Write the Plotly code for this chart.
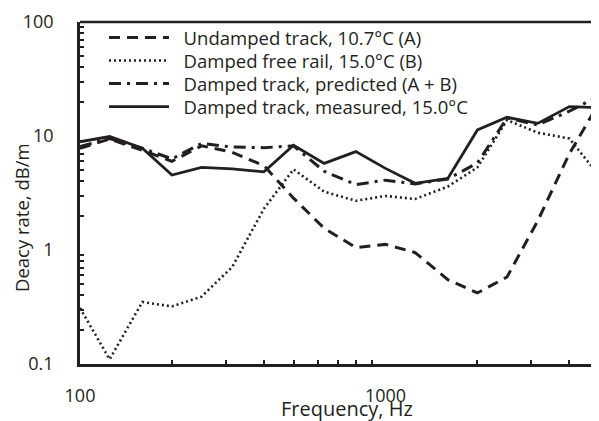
import plotly.graph_objects as go

freq = [100, 125, 160, 200, 250, 315, 400, 500, 630, 800, 1000, 1250, 1600, 2000, 2500, 3150, 4000, 5000]
undamped = [7.8, 9.4, 7.5, 6.0, 8.2, 7.2, 5.5, 2.85, 1.55, 1.05, 1.12, 0.95, 0.55, 0.42, 0.58, 1.8, 7.0, 19.5]
damped_free = [0.31, 0.11, 0.35, 0.32, 0.39, 0.71, 2.3, 5.1, 3.25, 2.7, 2.98, 2.8, 3.6, 5.3, 13.8, 10.7, 9.5, 4.5]
predicted = [8.1, 9.5, 7.8, 6.3, 8.6, 8.0, 7.9, 8.2, 4.9, 3.75, 4.1, 3.8, 4.2, 5.8, 14.4, 12.5, 16.5, 22.5]
measured = [8.9, 9.9, 7.8, 4.55, 5.3, 5.15, 4.85, 8.3, 5.75, 7.3, 5.2, 3.85, 4.25, 11.3, 14.6, 12.9, 18.1, 17.7]

names = ["Undamped track, 10.7°C (A)", "Damped free rail, 15.0°C (B)",
         "Damped track, predicted (A + B)", "Damped track, measured, 15.0°C"]
x_tickvals = [100, 1000]
x_ticktext = ["100", "1000"]
x_minor = [200, 300, 400, 500, 600, 700, 800, 900, 2000, 3000, 4000, 5000]
y_tickvals = [0.1, 1, 10, 100]
y_ticktext = ["0.1", "1", "10", "100"]
y_minor = [0.2, 0.3, 0.4, 0.5, 0.6, 0.7, 0.8, 0.9, 2, 3, 4, 5, 6, 7, 8, 9,
           20, 30, 40, 50, 60, 70, 80, 90]
x_title = "Frequency, Hz"
y_title = "Deacy rate, dB/m"

INK = "#231f20"
FONT = "Open Sans"
CLEAR = "rgba(0,0,0,0)"

# The page body has an 8px margin; work in screen pixels and subtract it.
OFF = 8
W, H = 599 - OFF, 421 - OFF
L, R, T, B = 80 - OFF, 599 - OFF, 22 - OFF, 364 - OFF
PW, PH = R - L, B - T
XR = [2, 3.699]
YR = [-1, 2]


def px(xs):
    return (xs - OFF - L) / PW


def py(ys):
    return (B - (ys - OFF)) / PH


fig = go.Figure()
series = [undamped, damped_free, predicted, measured]
dashes = ["11px,7px", "2px,3px", "12px,6px,3px,6px", "solid"]
widths = [3.0, 2.6, 3.0, 2.8]
legend_ids = ["legend", "legend2", "legend3", "legend4"]
legend_rows = [38, 61, 84, 107]
for name, vals, d, w, lg in zip(names, series, dashes, widths, legend_ids):
    fig.add_trace(go.Scatter(x=freq, y=vals, mode="lines", name="\u00a0\u00a0" + name,
                             legend=lg, line=dict(color=INK, width=w, dash=d)))

legend_common = dict(xanchor="left", yanchor="middle", bgcolor=CLEAR,
                     font=dict(size=18.5, family=FONT, color=INK), itemwidth=60,
                     borderwidth=0)
legends = {}
for lg, row in zip(legend_ids, legend_rows):
    legends[lg] = dict(legend_common, x=px(108 - 4), y=py(row))

plain = dict(showgrid=False, zeroline=False, automargin=False)

fig.update_layout(
    width=W, height=H,
    margin=dict(l=L, r=W - R, t=T, b=H - B),
    paper_bgcolor="white", plot_bgcolor="white",
    font=dict(family=FONT, color=INK, size=18),
    showlegend=True,
    **legends,
    # main axes: labels (pushed away by long transparent major ticks) + inside minor ticks
    xaxis=dict(plain, type="log", range=XR,
               showline=True, linecolor=INK, linewidth=2.5,
               tickvals=x_tickvals, ticktext=x_ticktext,
               ticks="outside", ticklen=14, tickwidth=1.5, tickcolor=CLEAR,
               minor=dict(ticks="inside", ticklen=4, tickwidth=1.5, tickcolor=INK,
                          tickvals=x_minor),
               tickfont=dict(size=18)),
    yaxis=dict(plain, type="log", range=YR,
               showline=True, linecolor=INK, linewidth=2.5,
               tickvals=y_tickvals, ticktext=y_ticktext,
               ticks="outside", ticklen=20, tickwidth=1.5, tickcolor=CLEAR,
               minor=dict(ticks="inside", ticklen=4, tickwidth=1.5, tickcolor=INK,
                          tickvals=y_minor),
               tickfont=dict(size=18)),
    # overlay axes: visible major ticks crossing the axis line
    xaxis2=dict(plain, type="log", range=XR, overlaying="x", anchor="y", side="bottom",
                showline=False, tickvals=x_tickvals, showticklabels=False,
                ticks="outside", ticklen=4, tickwidth=1.5, tickcolor=INK),
    xaxis3=dict(plain, type="log", range=XR, overlaying="x", anchor="y", side="bottom",
                showline=False, tickvals=x_tickvals, showticklabels=False,
                ticks="inside", ticklen=4, tickwidth=1.5, tickcolor=INK),
    yaxis2=dict(plain, type="log", range=YR, overlaying="y", anchor="x", side="left",
                showline=False, tickvals=y_tickvals, showticklabels=False,
                ticks="outside", ticklen=4, tickwidth=1.5, tickcolor=INK),
    yaxis3=dict(plain, type="log", range=YR, overlaying="y", anchor="x", side="left",
                showline=False, tickvals=y_tickvals, showticklabels=False,
                ticks="inside", ticklen=4, tickwidth=1.5, tickcolor=INK),
    shapes=[dict(type="line", xref="paper", yref="paper", x0=0, x1=1, y0=1, y1=1,
                 line=dict(color=INK, width=2.5))],
    annotations=[
        dict(text=x_title, xref="paper", yref="paper", x=px(347), y=py(408),
             xanchor="center", yanchor="middle", showarrow=False,
             font=dict(size=20, family=FONT, color=INK)),
        dict(text=y_title, xref="paper", yref="paper", x=px(21), y=py(218),
             xanchor="center", yanchor="middle", showarrow=False, textangle=-90,
             font=dict(size=18.5, family=FONT, color=INK)),
    ],
)

fig.write_html("out.html")
